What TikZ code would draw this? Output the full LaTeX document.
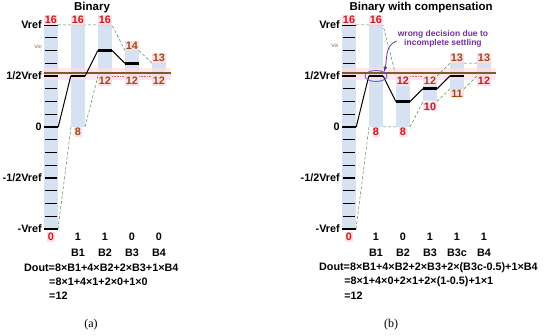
\documentclass[tikz,border=0pt]{standalone}
\usepackage{fontspec}
\setmainfont{Liberation Sans}
\newfontfamily\capfont{Liberation Serif}
\usetikzlibrary{positioning,shapes.geometric}
\definecolor{colbg}{RGB}{214,226,242}
\definecolor{pinkbg}{RGB}{255,222,232}
\definecolor{vinline}{RGB}{128,92,36}
\definecolor{redlab}{RGB}{196,28,28}
\definecolor{brnlab}{RGB}{150,78,22}
\definecolor{bndgreen}{RGB}{70,140,70}
\definecolor{notepurple}{RGB}{112,48,160}
\definecolor{ellblue}{RGB}{96,84,200}
\begin{document}
\begin{tikzpicture}[x=1pt, y=-1pt,
  txt/.style={font=\bfseries\fontsize{10.8}{12}\selectfont, inner sep=1pt},
  title/.style={font=\bfseries\fontsize{11.5}{13}\selectfont, inner sep=0pt},
  axlab/.style={txt, anchor=east},
  num/.style={txt, fill=pinkbg, text=brnlab},
  rnum/.style={num, text=redlab},
  vinlab/.style={font=\fontsize{5}{6}\selectfont, text=brnlab, inner sep=0pt},
  note/.style={font=\bfseries\fontsize{8.5}{9.5}\selectfont, text=notepurple, align=center, inner sep=1pt},
  colbar/.style={fill=colbg},
  band/.style={fill=pinkbg, opacity=0.7},
  scaletick/.style={line width=1.3pt},
  major/.style={line width=2.6pt},
  dacbar/.style={fill=black, minimum width=14pt, minimum height=2.8pt, inner sep=0pt},
  dacline/.style={line width=1pt},
  bnd/.style={bndgreen, densely dashed, line width=0.5pt},
  rbnd/.style={redlab!70, densely dotted, line width=0.6pt},
  vin/.style={vinline, line width=1.6pt}]
\useasboundingbox (0,0) rectangle (550,336);

\begin{scope}[xshift=51pt, yshift=-229pt, x=27pt, y=12.75pt]
  \node[title] (ltitle) at (1.52,17.4) {Binary};
  \foreach \i/\lo/\hi in {0/0/16,1/8/16,2/12/16,3/12/14,4/12/13} {
    \fill[colbar] (\i-0.26,\lo) rectangle (\i+0.26,\hi);
    \coordinate (lt\i) at (\i,\hi);
    \coordinate (lb\i) at (\i,\lo);
  }
  \fill[band] (-0.26,11.7) rectangle (4.45,12.65);
  \foreach \v in {1,...,15} \draw[scaletick] (-0.22,\v) -- (0.22,\v);
  \foreach \v in {0,12,16} \draw[major] (-0.26,\v) -- (0.26,\v);
  \coordinate (lvinA) at (-0.26,12.25);
  \coordinate (lvinB) at (4.45,12.25);
  \draw[vin] (lvinA) -- (lvinB);
  \node[axlab] (lv16) at (-0.3,16) {Vref};
  \node[axlab] (lv12) at (-0.3,12) {1/2Vref};
  \node[axlab] (lv8) at (-0.3,8) {0};
  \node[axlab] (lv4) at (-0.3,4) {-1/2Vref};
  \node[axlab] (lv0) at (-0.3,0) {-Vref};
  \node[vinlab] (lvin) at (-0.48,14.3) {Vin};
  \draw[bnd] ([xshift=7pt]lt0) -- ([xshift=7pt]lt2) -- ([xshift=-7pt]lt3)
    ([xshift=7pt]lt3) -- ([xshift=-7pt]lt4)
    ([xshift=7pt]lb0) -- ([xshift=-7pt]lb1) ([xshift=7pt]lb1) -- ([xshift=-7pt]lb2);
  \draw[rbnd] ([xshift=7pt]lb2) -- ([xshift=-7pt]lb3) ([xshift=7pt]lb3) -- ([xshift=-7pt]lb4);
  \node[dacbar] (ld0) at (0,8) {};
  \node[dacbar] (ld1) at (1,12) {};
  \node[dacbar] (ld2) at (2,14) {};
  \node[dacbar] (ld3) at (3,13) {};
  \draw[dacline] (ld0.east) -- (ld1.west) (ld1.east) -- (ld2.west) (ld2.east) -- (ld3.west);
  \foreach \i in {0,1,2} \node[rnum, anchor=south] (lt\i n) at (lt\i) {16};
  \node[num, anchor=south] (lt3n) at (lt3) {14};
  \node[num, anchor=south] (lt4n) at (lt4) {13};
  \node[num, anchor=north] (lb1n) at (lb1) {8};
  \foreach \i in {2,3,4} \node[num, anchor=north] (lb\i n) at (lb\i) {12};
  \node[rnum] (lbit0) at (0,-0.63) {0};
  \foreach \i/\b in {1/1,2/1,3/0,4/0} {
    \node[txt] (lbit\i) at (\i,-0.63) {\b};
    \node[txt] (lname\i) at (\i,-1.88) {B\i};
  }
  \node[txt, anchor=west] (ldout) at (-1.04,-3.06) {Dout=8×B1+4×B2+2×B3+1×B4};
  \node[txt, anchor=west] (ldout2) at (-0.11,-4.16) {=8×1+4×1+2×0+1×0};
  \node[txt, anchor=west] (ldout3) at (-0.11,-5.25) {=12};
  \node[font=\capfont\fontsize{12}{14}\selectfont] (lcap) at (1.48,-7.5) {(a)};
\end{scope}

\begin{scope}[xshift=349pt, yshift=-229pt, x=27pt, y=12.75pt]
  \node[title] (rtitle) at (2.67,17.4) {Binary with compensation};
  \foreach \i/\lo/\hi in {0/0/16,1/8/16,2/8/12,3/10/12,4/11/13,5/12/13} {
    \fill[colbar] (\i-0.26,\lo) rectangle (\i+0.26,\hi);
    \coordinate (rt\i) at (\i,\hi);
    \coordinate (rb\i) at (\i,\lo);
  }
  \fill[band] (-0.26,11.7) rectangle (5.45,12.65);
  \foreach \v in {1,...,15} \draw[scaletick] (-0.22,\v) -- (0.22,\v);
  \foreach \v in {0,12,16} \draw[major] (-0.26,\v) -- (0.26,\v);
  \coordinate (rvinA) at (-0.26,12.25);
  \coordinate (rvinB) at (5.45,12.25);
  \draw[vin] (rvinA) -- (rvinB);
  \node[axlab] (rv16) at (-0.3,16) {Vref};
  \node[axlab] (rv12) at (-0.3,12) {1/2Vref};
  \node[axlab] (rv8) at (-0.3,8) {0};
  \node[axlab] (rv4) at (-0.3,4) {-1/2Vref};
  \node[axlab] (rv0) at (-0.3,0) {-Vref};
  \node[vinlab] (rvin) at (-0.52,14.4) {Vin};
  \draw[bnd] ([xshift=7pt]rt0) -- ([xshift=7pt]rt1) -- ([xshift=-7pt]rt2)
    ([xshift=7pt]rt3) -- ([xshift=-7pt]rt4) ([xshift=7pt]rt4) -- ([xshift=-7pt]rt5)
    ([xshift=7pt]rb0) -- ([xshift=-7pt]rb1) ([xshift=7pt]rb1) -- ([xshift=-7pt]rb2)
    ([xshift=7pt]rb2) -- ([xshift=-7pt]rb3) ([xshift=7pt]rb3) -- ([xshift=-7pt]rb4)
    ([xshift=7pt]rb4) -- ([xshift=-7pt]rb5);
  \draw[rbnd] ([xshift=7pt]rt2) -- ([xshift=-7pt]rt3);
  \node[dacbar] (rd0) at (0,8) {};
  \node[dacbar] (rd1) at (1,12) {};
  \node[dacbar] (rd2) at (2,10) {};
  \node[dacbar] (rd3) at (3,11) {};
  \node[dacbar] (rd4) at (4,12) {};
  \draw[dacline] (rd0.east) -- (rd1.west) (rd1.east) -- (rd2.west) (rd2.east) -- (rd3.west) (rd3.east) -- (rd4.west);
  \node[ellipse, draw=ellblue, line width=0.8pt, minimum width=22pt, minimum height=11pt, inner sep=0pt] (rell) at (rd1) {};
  \node[note] (rnote) at (3.48,14.9) {wrong decision due to\\incomplete settling};
  \draw[-latex, notepurple, line width=0.8pt] ([yshift=-2pt]rnote.west) to[out=200, in=75] (rell.north east);
  \foreach \i in {0,1} \node[rnum, anchor=south] (rt\i n) at (rt\i) {16};
  \node[rnum] (rt2n) at (2,11.6) {12};
  \node[num] (rt3n) at (3,11.6) {12};
  \node[num, anchor=south] (rt4n) at (rt4) {13};
  \node[num, anchor=south] (rt5n) at (rt5) {13};
  \node[rnum, anchor=north] (rb1n) at (rb1) {8};
  \node[rnum, anchor=north] (rb2n) at (rb2) {8};
  \node[rnum, anchor=north] (rb3n) at (rb3) {10};
  \node[num, anchor=north] (rb4n) at (rb4) {11};
  \node[rnum, anchor=north] (rb5n) at (rb5) {12};
  \node[rnum] (rbit0) at (0,-0.63) {0};
  \foreach \i/\b/\n in {1/1/B1,2/0/B2,3/1/B3,4/1/B3c,5/1/B4} {
    \node[txt] (rbit\i) at (\i,-0.63) {\b};
    \node[txt] (rname\i) at (\i,-1.88) {\n};
  }
  \node[txt, anchor=west] (rdout) at (-1.15,-3.06) {Dout=8×B1+4×B2+2×B3+2×(B3c-0.5)+1×B4};
  \node[txt, anchor=west] (rdout2) at (-0.22,-4.16) {=8×1+4×0+2×1+2×(1-0.5)+1×1};
  \node[txt, anchor=west] (rdout3) at (-0.22,-5.25) {=12};
  \node[font=\capfont\fontsize{12}{14}\selectfont] (rcap) at (1.56,-7.5) {(b)};
\end{scope}
\end{tikzpicture}
\end{document}
